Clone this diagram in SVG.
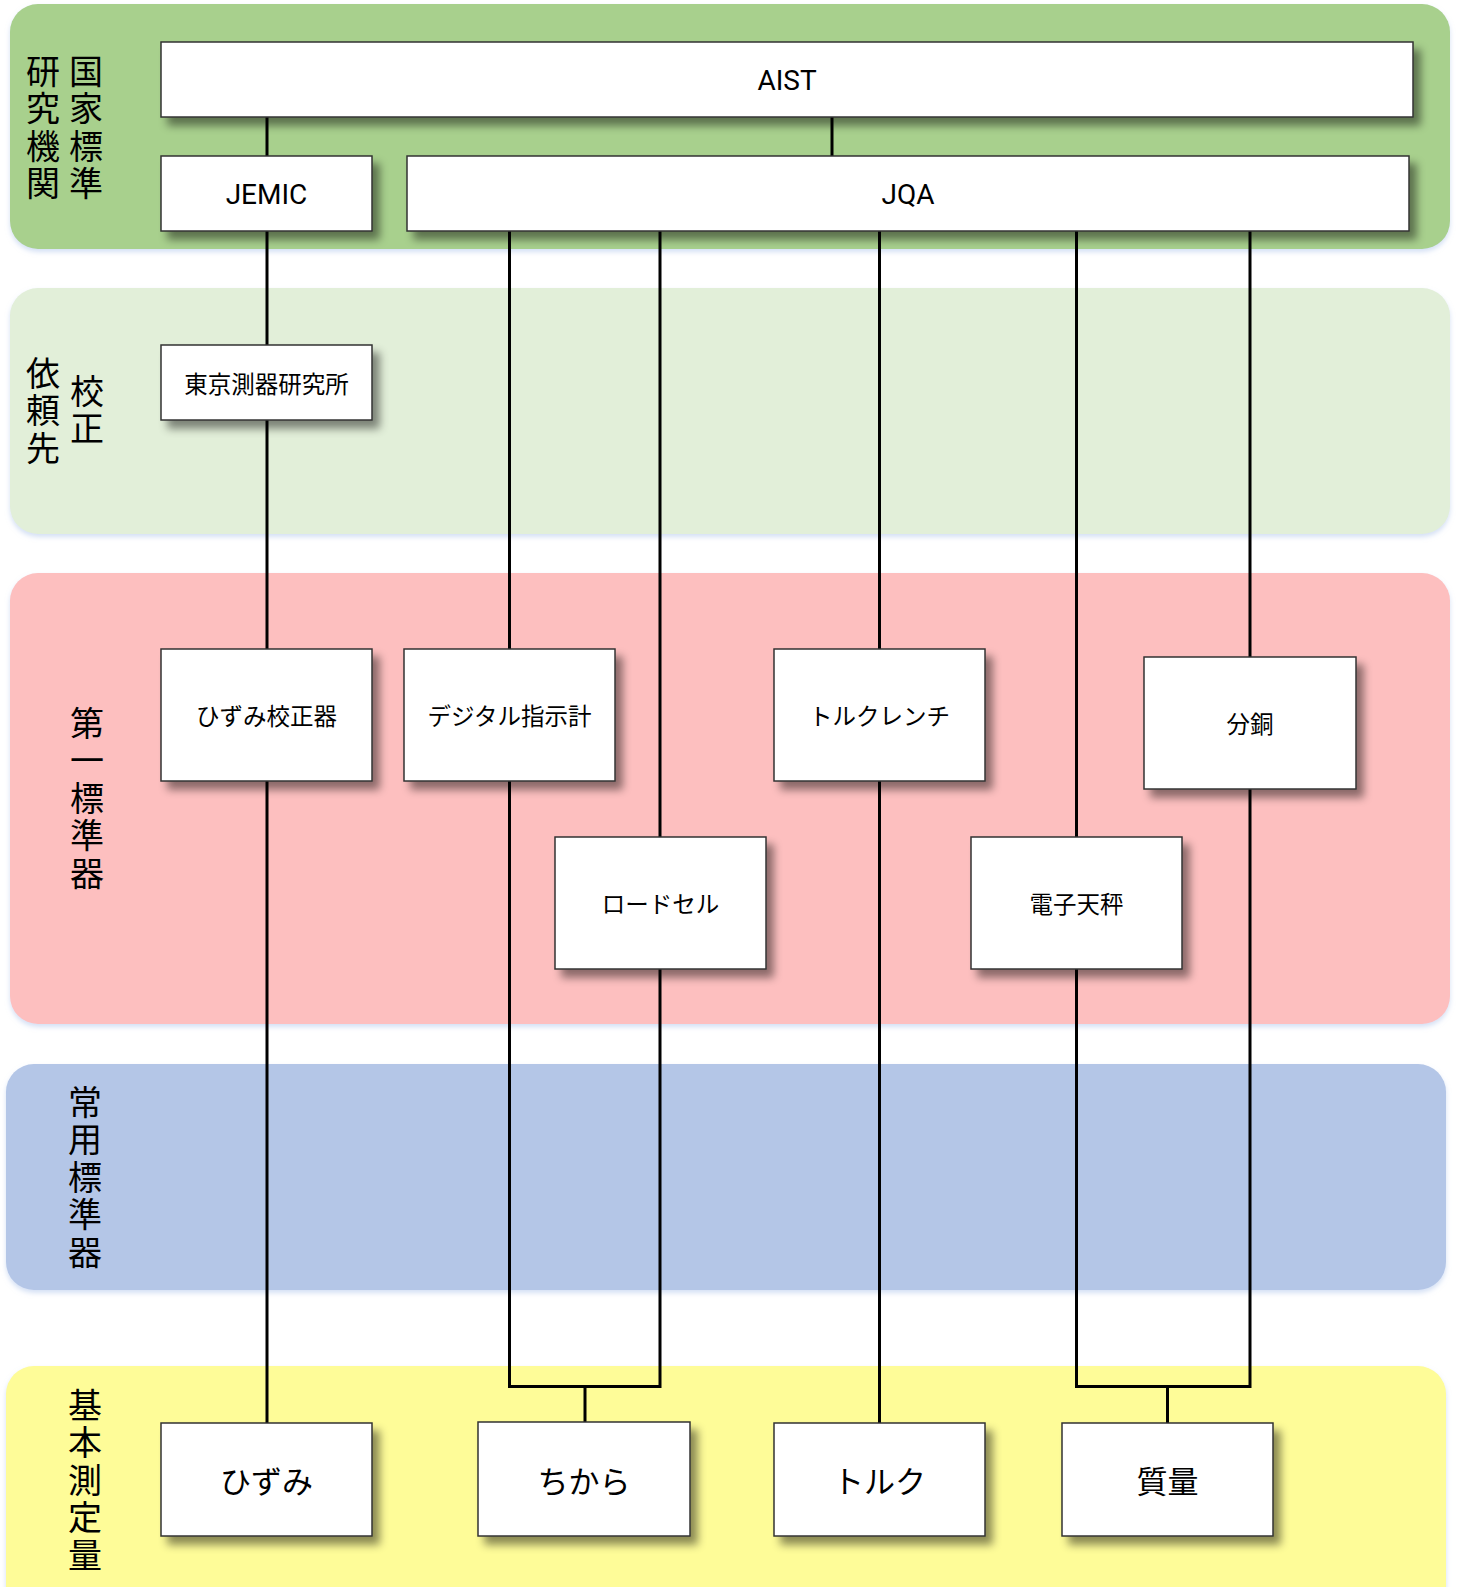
<svg xmlns="http://www.w3.org/2000/svg" width="1459" height="1587" viewBox="0 0 1459 1587">
<defs>
<filter id="ns" x="-10%" y="-20%" width="130%" height="150%">
<feDropShadow dx="7" dy="8" stdDeviation="4" flood-color="#000" flood-opacity="0.45"/>
</filter>
<filter id="bs" x="-5%" y="-10%" width="110%" height="120%">
<feDropShadow dx="0" dy="3" stdDeviation="2.5" flood-color="#a9c1ea" flood-opacity="0.5"/>
</filter>
<style>
.band{filter:url(#bs)}
.node rect{fill:#fff;stroke:#333;stroke-width:1.5;filter:url(#ns)}
.t{font-family:"Noto Sans CJK JP","Noto Sans",sans-serif;fill:#000;text-anchor:middle;dominant-baseline:central}
.lat{font-family:Roboto,"Noto Sans CJK JP",sans-serif;font-size:28px}
.v{font-family:"Noto Sans CJK JP",sans-serif;font-size:34px;fill:#000;writing-mode:vertical-rl;letter-spacing:3.5px}
.n23{font-size:23.5px}
.n31{font-size:31px}
#connectors path{fill:none;stroke:#000;stroke-width:3}
</style>
</defs>
<rect width="1459" height="1587" fill="#fff"/>
<g id="bands">
<rect class="band" x="10" y="4" width="1440" height="245" rx="28" fill="#a8d08d"/>
<rect class="band" x="10" y="288" width="1440" height="246" rx="28" fill="#e2efd9"/>
<rect class="band" x="10" y="573" width="1440" height="451" rx="28" fill="#fdbfbf"/>
<rect class="band" x="6" y="1064" width="1440" height="226" rx="28" fill="#b4c6e7"/>
<rect class="band" x="6" y="1366" width="1440" height="260" rx="28" fill="#fefc98"/>
</g>
<g id="band-labels">
<text class="v" x="43" y="54">研究機関</text>
<text class="v" x="86" y="54">国家標準</text>
<text class="v" x="43" y="356">依頼先</text>
<text class="v" x="87" y="374">校正</text>
<text class="v" x="87" y="706">第一標準器</text>
<text class="v" x="85" y="1085">常用標準器</text>
<text class="v" x="85" y="1388">基本測定量</text>
</g>
<g id="connectors">
<path d="M267 117V156"/>
<path d="M832 117V156"/>
<path d="M267 231V345"/>
<path d="M267 420V649"/>
<path d="M267 781V1423"/>
<path d="M509.5 231V649"/>
<path d="M660 231V837"/>
<path d="M879.5 231V649"/>
<path d="M1076.5 231V837"/>
<path d="M1250 231V657"/>
<path d="M509.5 781V1386.5H585V1422"/>
<path d="M660 969V1386.5H585"/>
<path d="M879.5 781V1423"/>
<path d="M1076.5 969V1386.5H1167.5V1423"/>
<path d="M1250 789V1386.5H1167.5"/>
</g>
<g id="n-aist" class="node"><rect x="161" y="42" width="1252" height="75"/><text class="t lat" x="787" y="80">AIST</text></g>
<g id="n-jemic" class="node"><rect x="161" y="156" width="211" height="75"/><text class="t lat" x="266.5" y="194">JEMIC</text></g>
<g id="n-jqa" class="node"><rect x="407" y="156" width="1002" height="75"/><text class="t lat" x="908" y="194">JQA</text></g>
<g id="n-tml" class="node"><rect x="161" y="345" width="211" height="75"/><text class="t n23" x="266.5" y="382.5">東京測器研究所</text></g>
<g id="n-hizumikousei" class="node"><rect x="161" y="649" width="211" height="132"/><text class="t n23" x="266.5" y="715">ひずみ校正器</text></g>
<g id="n-digital" class="node"><rect x="404" y="649" width="211" height="132"/><text class="t n23" x="509.5" y="715">デジタル指示計</text></g>
<g id="n-torquewrench" class="node"><rect x="774" y="649" width="211" height="132"/><text class="t n23" x="879.5" y="715">トルクレンチ</text></g>
<g id="n-fundo" class="node"><rect x="1144" y="657" width="212" height="132"/><text class="t n23" x="1250" y="723">分銅</text></g>
<g id="n-loadcell" class="node"><rect x="555" y="837" width="211" height="132"/><text class="t n23" x="660.5" y="903">ロードセル</text></g>
<g id="n-balance" class="node"><rect x="971" y="837" width="211" height="132"/><text class="t n23" x="1076.5" y="903">電子天秤</text></g>
<g id="n-hizumi" class="node"><rect x="161" y="1423" width="211" height="113"/><text class="t n31" x="266.5" y="1479">ひずみ</text></g>
<g id="n-chikara" class="node"><rect x="478" y="1422" width="212" height="114"/><text class="t n31" x="584" y="1479">ちから</text></g>
<g id="n-torque" class="node"><rect x="774" y="1423" width="211" height="113"/><text class="t n31" x="879.5" y="1479">トルク</text></g>
<g id="n-mass" class="node"><rect x="1062" y="1423" width="211" height="113"/><text class="t n31" x="1167.5" y="1479">質量</text></g>
</svg>
